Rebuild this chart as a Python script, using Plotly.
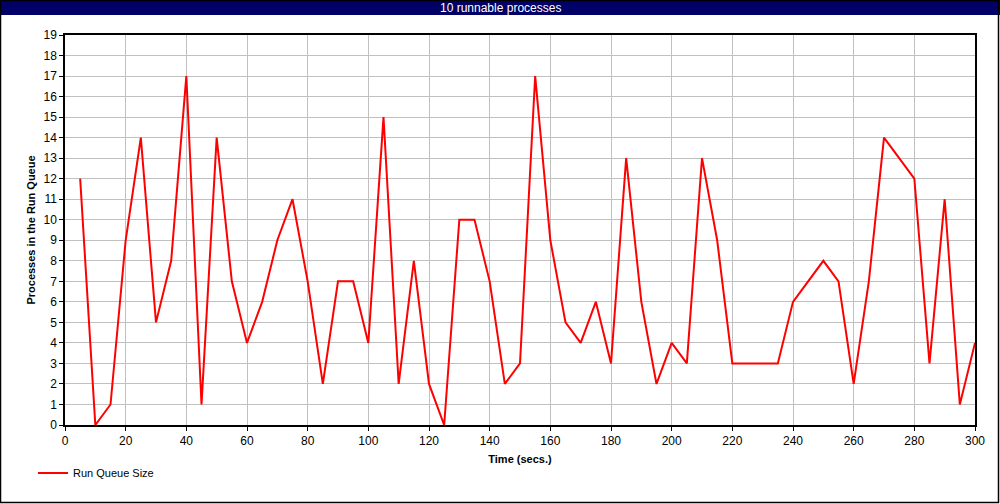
import plotly.graph_objects as go

time_secs = [5, 10, 15, 20, 25, 30, 35, 40, 45, 50, 55, 60, 65, 70, 75, 80, 85, 90, 95, 100,
             105, 110, 115, 120, 125, 130, 135, 140, 145, 150, 155, 160, 165, 170, 175, 180,
             185, 190, 195, 200, 205, 210, 215, 220, 225, 230, 235, 240, 245, 250, 255, 260,
             265, 270, 275, 280, 285, 290, 295, 300]
run_queue = [12, 0, 1, 9, 14, 5, 8, 17, 1, 14, 7, 4, 6, 9, 11, 7, 2, 7, 7, 4,
             15, 2, 8, 2, 0, 10, 10, 7, 2, 3, 17, 9, 5, 4, 6, 3,
             13, 6, 2, 4, 3, 13, 9, 3, 3, 3, 3, 6, 7, 8, 7, 2,
             7, 14, 13, 12, 3, 11, 1, 4]
x_ticks = list(range(0, 301, 20))
y_ticks = list(range(0, 20))
title_text = "10 runnable processes"
series_name = "Run Queue Size"
x_title = "Time (secs.)"
y_title = "Processes in the Run Queue"

W, H = 1000, 504
L, R, T, B = 65, 25, 35, 79
pw, ph = W - L - R, H - T - B


def px_x(p):
    return (p - L) / pw


def px_y(p):
    return (H - B - p) / ph


FONT = "Liberation Sans, Arial, sans-serif"

fig = go.Figure()
fig.add_trace(go.Scatter(x=time_secs, y=run_queue, mode="lines", name=series_name,
                         line=dict(color="#ff0000", width=2)))

fig.update_layout(
    width=W, height=H,
    margin=dict(l=L, r=R, t=T, b=B, pad=0),
    paper_bgcolor="white", plot_bgcolor="white",
    font=dict(family=FONT, size=12, color="black"),
    showlegend=True,
    legend=dict(x=px_x(33), y=px_y(473), xanchor="left", yanchor="middle",
                bgcolor="rgba(0,0,0,0)", font=dict(size=11, family=FONT),
                itemwidth=30),
    xaxis=dict(range=[0, 300], tickvals=x_ticks, showgrid=True, gridcolor="#c0c0c0",
               gridwidth=1, showline=True, linecolor="black", linewidth=1.5, mirror=True,
               ticks="outside", ticklen=4, tickcolor="black", zeroline=False,
               title=dict(text="<b>" + x_title + "</b>", font=dict(size=11), standoff=8)),
    yaxis=dict(range=[0, 19], tickvals=y_ticks, showgrid=True, gridcolor="#c0c0c0",
               gridwidth=1, showline=True, linecolor="black", linewidth=1.5, mirror=True,
               ticks="outside", ticklen=4, tickcolor="black", zeroline=False,
               title=dict(text="<b>" + y_title + "</b>", font=dict(size=11), standoff=6)),
    shapes=[
        dict(type="rect", xref="paper", yref="paper",
             x0=px_x(0), x1=px_x(W), y0=px_y(15), y1=px_y(0),
             fillcolor="#000066", line=dict(width=0), layer="above"),
        dict(type="rect", xref="paper", yref="paper",
             x0=px_x(0.5), x1=px_x(W - 1.5), y0=px_y(H - 1.5), y1=px_y(0.5),
             fillcolor="rgba(0,0,0,0)", line=dict(color="black", width=1.5), layer="above"),
    ],
    annotations=[
        dict(text=title_text, xref="paper", yref="paper", x=px_x(W / 2), y=px_y(7.5),
             xanchor="center", yanchor="middle", showarrow=False,
             font=dict(color="white", size=12, family="Liberation Sans Narrow, Liberation Sans, Arial")),
    ],
)

fig.write_html("out.html", config={"displayModeBar": False},
               post_script="document.body.style.margin='0';document.body.style.overflow='hidden';")
